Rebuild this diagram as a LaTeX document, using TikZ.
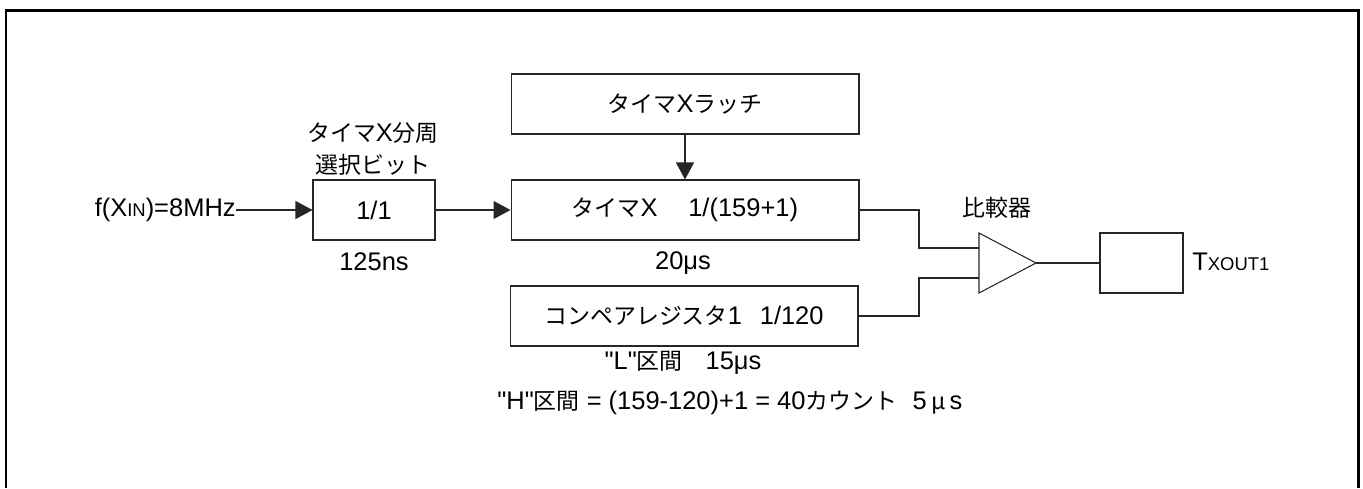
\documentclass[tikz,border=0pt]{standalone}
\usepackage{fontspec}
\setmainfont{Liberation Sans}
\newfontfamily\jpfont[Scale=0.9]{Noto Sans CJK JP}
\newcommand{\jp}[1]{{\jpfont #1}}
\newcommand{\sml}[1]{{\fontsize{10.5}{12}\selectfont #1}}
\usetikzlibrary{arrows.meta,positioning}
\tikzset{
  blk/.style={draw=black!85, line width=0.6pt, minimum height=1.2cm},
  lbl/.style={inner sep=0pt},
  wire/.style={draw=black!85, line width=0.6pt},
  sig/.style={wire, -{Triangle[length=0.34cm,width=0.36cm]}}
}
\begin{document}
\begin{tikzpicture}[x=0.02cm, y=-0.02cm, every node/.style={font=\fontsize{14.5}{18}\selectfont}]
  \useasboundingbox (0,0) rectangle (1363,488);
  \draw[line width=1.7pt] (6,488) -- (6,10.5) -- (1358.5,10.5) -- (1358.5,488);

  \node[blk, minimum width=2.44cm] (div) at (374,210) {1/1};
  \node[blk, minimum width=6.96cm] (latch) at (685,104) {\jp{タイマ}X\jp{ラッチ}};
  \node[blk, minimum width=6.96cm] (timer) at (685,210) {\jp{タイマ}X\hspace{1.2em}1/(159+1)};
  \node[blk, minimum width=6.96cm] (reg) at (684,316) {\jp{コンペアレジスタ}1\hspace{0.7em}1/120};
  \node[blk, minimum width=1.66cm] (out) at (1141.5,263) {};

  \node[lbl, anchor=east] (fin) at (236,210) {f(X\sml{IN})=8MHz};
  \node[lbl, align=center] (divname) at (373,149) {\jp{タイマ}X\jp{分周}\\\jp{選択ビット}};
  \node[lbl] (tdiv) at (374,262) {125ns};
  \node[lbl] (tcnt) at (683,263) {20μs};
  \node[lbl] (tlow) at (683,363) {\textquotedbl L\textquotedbl\jp{区間}\hspace{0.9em}15μs};
  \node[lbl, anchor=west] (thigh) at (497,403) {\textquotedbl H\textquotedbl\jp{区間} = (159-120)+1 = 40\jp{カウント}\hspace{0.6em}5\,\jp{μ}\,s};
  \node[lbl, anchor=west] (txout) at (1192,262) {T\sml{XOUT1}};
  \node[lbl] (cmpname) at (997,208) {\jp{比較器}};

  \coordinate (cmp) at (979,263);
  \coordinate (cmpa) at (979,248);
  \coordinate (cmpb) at (979,278);
  \coordinate (cmpo) at (1036,263);
  \draw[wire] (979,233) -- (cmpo) -- (979,293) -- cycle;

  \draw[sig] (fin.east) -- (div.west);
  \draw[sig] (div.east) -- (timer.west);
  \draw[sig] (latch.south) -- (timer.north);
  \draw[wire] (timer.east) -| (919,248) -- (cmpa);
  \draw[wire] (reg.east) -| (919,278) -- (cmpb);
  \draw[wire] (cmpo) -- (out.west);
\end{tikzpicture}
\end{document}
